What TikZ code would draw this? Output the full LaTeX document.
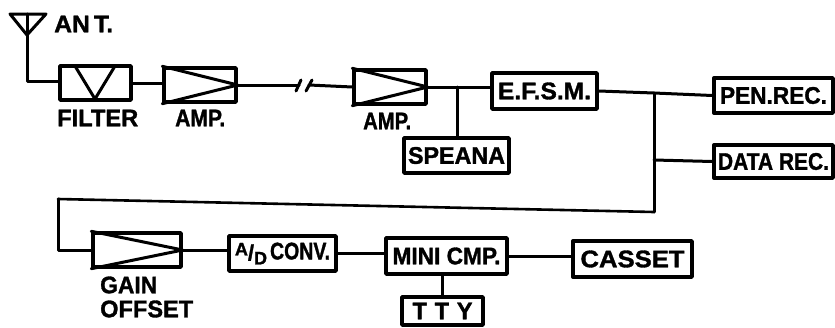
\documentclass[tikz,border=0pt]{standalone}
\usepackage{fontspec}
\setmainfont{Liberation Sans}[BoldFeatures={FakeBold=1.4}]
\usetikzlibrary{calc}
\newcommand{\fw}[2]{\resizebox{#1pt}{\height}{#2}}
\tikzset{
  wire/.style={line width=3pt,line cap=round,line join=round},
  thinwire/.style={line width=2.6pt,line cap=round,line join=round},
  blockbox/.style={draw,line width=3.4pt,line join=round,inner sep=0pt,fill=white,font=\fontsize{24}{26}\selectfont\bfseries},
  caption/.style={inner sep=0pt,font=\fontsize{24}{26}\selectfont\bfseries,align=left},
}
\newcommand{\bx}[5]{\node[blockbox,minimum width=#3pt,minimum height=#4pt] (#1) at (#2) {#5};}
\begin{document}
\begin{tikzpicture}[x=1pt,y=-1pt]
\useasboundingbox (0,0) rectangle (835,327);
% blocks
\bx{filter}{95.5,83}{71}{34}{}
\bx{ampa}{200,85}{72}{34}{}
\bx{ampb}{390,87}{72}{34}{}
\bx{efsm}{544.5,91}{105}{36}{\fw{93}{E.F.S.M.}}
\bx{pen}{773.5,95.5}{119}{35}{\fw{107}{PEN.REC.}}
\bx{data}{773.5,161.5}{119}{33}{\fw{111}{DATA REC.}}
\bx{spe}{456.5,155.5}{105}{35}{\fw{97}{SPEANA}}
\bx{gain}{137,250}{88}{34}{}
\bx{adc}{282.5,253.5}{107}{35}{\raisebox{4pt}{\fontsize{18}{18}\selectfont A}\raisebox{-1pt}{\fontsize{22}{22}\selectfont /}\raisebox{-5pt}{\fontsize{18}{18}\selectfont D}\hspace{3pt}\fw{60}{CONV.}}
\bx{mini}{446.5,256}{121}{36}{\fw{108}{MINI CMP.}}
\bx{cas}{632.5,259}{119}{36}{\fw{104}{CASSET}}
\bx{tty}{442.5,311}{81}{28}{\fw{60}{T\,\,T\,\,Y}}
% antenna
\coordinate (anttip) at (27,35);
\coordinate (antl) at (10,14);
\coordinate (antr) at (46,14);
\coordinate (anttop) at (27,14);
\coordinate (antcorner) at (27,81);
\draw[wire] (antl) -- (antr) -- (anttip) -- cycle;
\draw[wire] (anttop) -- (antcorner) -- (antcorner -| filter.west);
% inner symbols
\coordinate (vl) at (75,66);
\coordinate (vb) at (95,99);
\coordinate (vr) at (115,66);
\draw[wire] (vl) -- (vb) -- (vr);
\draw[wire] (ampa.north west) -- (ampa.east) -- (ampa.south west);
\draw[wire] (ampb.north west) -- (ampb.east) -- (ampb.south west);
\draw[wire] (gain.north west) -- (gain.east) -- (gain.south west);
% connectors
\draw[wire] (filter.east) -- (filter.east -| ampa.west);
\coordinate (bra) at (299,85);
\coordinate (brb) at (309,85);
\draw[wire] (ampa.east) -- (bra);
\draw[wire] (brb) -- (ampb.west);
\draw[wire] ($(bra)+(2,-5)$) -- ($(bra)+(-3,6)$);
\draw[wire] ($(brb)+(3,-5)$) -- ($(brb)+(-3,6)$);
\draw[wire] (ampb.east) -- (ampb.east -| efsm.west);
\coordinate (jspe) at (457,87);
\draw[wire] (jspe) -- (spe.north -| jspe);
\coordinate (jout) at (654,93);
\coordinate (jdown) at (654,212);
\coordinate (jleft) at (58,199);
\coordinate (jgain) at (58,250);
\draw[wire] (efsm.east) -- (jout) -- (pen.west);
\draw[wire] (jout) -- (jdown);
\draw[thinwire] (jdown) -- (jleft);
\draw[wire] (jleft) -- (jgain) -- (gain.west);
\coordinate (jdata) at (654,160);
\draw[wire] (jdata) -- (data.west);
\draw[wire] (gain.east) -- (gain.east -| adc.west);
\draw[wire] (adc.east) -- (adc.east -| mini.west);
\draw[wire] (mini.east) -- (mini.east -| cas.west);
\draw[wire] (mini.south -| tty.north) -- (tty.north);
% captions
\node[caption,anchor=west] (antlab) at (54,24) {\fw{59}{AN\,T.}};
\node[caption,anchor=west] (filterlab) at (57,118) {\fw{81}{FILTER}};
\node[caption,anchor=west] (ampalab) at (175,118) {\fw{50}{AMP.}};
\node[caption,anchor=west] (ampblab) at (363,121) {\fw{48}{AMP.}};
\node[caption,anchor=west] (gainlab) at (100,285) {\fw{57}{GAIN}};
\node[caption,anchor=west] (offlab) at (100,309) {\fw{93}{OFFSET}};
\end{tikzpicture}
\end{document}
